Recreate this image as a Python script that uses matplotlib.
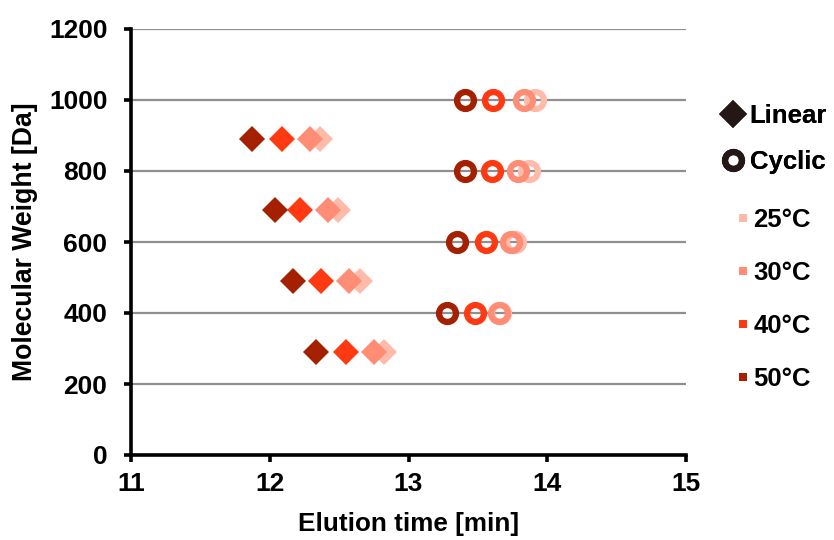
import matplotlib
matplotlib.use("Agg")
import matplotlib.pyplot as plt
from matplotlib.lines import Line2D

plt.rcParams['font.family'] = ['Liberation Sans', 'DejaVu Sans']
plt.rcParams['font.weight'] = 'bold'

temps = ["25°C", "30°C", "40°C", "50°C"]
colors = ["#FFBBAA", "#FF8C74", "#FF3A12", "#A52000"]

linear_mw = [890, 690, 490, 290]
linear_time = {
    "25°C": [12.36, 12.49, 12.65, 12.82],
    "30°C": [12.29, 12.42, 12.57, 12.75],
    "40°C": [12.09, 12.22, 12.37, 12.55],
    "50°C": [11.87, 12.04, 12.17, 12.33],
}

cyclic_mw = [1000, 800, 600, 400]
cyclic_time = {
    "25°C": [13.91, 13.87, 13.77, 13.66],
    "30°C": [13.83, 13.79, 13.74, 13.65],
    "40°C": [13.61, 13.60, 13.56, 13.48],
    "50°C": [13.41, 13.41, 13.35, 13.28],
}

x_ticks = [11, 12, 13, 14, 15]
y_ticks = [0, 200, 400, 600, 800, 1000, 1200]

fig = plt.figure(figsize=(8.34, 5.4), dpi=100)
ax = fig.add_axes([131/834, 85/540, 555/834, 426/540])

for t, c in zip(temps, colors):
    ax.plot(linear_time[t], linear_mw, linestyle='none', marker='D',
            markersize=13.5, color=c, markeredgewidth=0, zorder=3)
    ax.plot(cyclic_time[t], cyclic_mw, linestyle='none', marker='o',
            markersize=12.2, markerfacecolor='none', markeredgecolor=c,
            markeredgewidth=4.5, zorder=3)

ax.set_xlim(11, 15)
ax.set_ylim(0, 1200)
ax.set_xticks(x_ticks)
ax.set_yticks(y_ticks)
ax.yaxis.grid(True, color='#8f8f8f', linewidth=1.6)
ax.set_axisbelow(True)
for s in ['top', 'right']:
    ax.spines[s].set_visible(False)
for s in ['left', 'bottom']:
    ax.spines[s].set_linewidth(2.6)
    ax.spines[s].set_color('black')
ax.tick_params(axis='both', which='major', direction='out', length=5,
               width=2.6, labelsize=19)
ax.tick_params(axis='y', pad=12)
ax.tick_params(axis='x', pad=7)
for lab in ax.get_xticklabels() + ax.get_yticklabels():
    lab.set_fontweight('bold')

ax.set_xlabel("Elution time [min]", fontsize=18.8, fontweight='bold', labelpad=12)
ax.set_ylabel("Molecular Weight [Da]", fontsize=19.2, fontweight='bold', labelpad=8)

h1 = [Line2D([], [], linestyle='none', marker='D', markersize=14, color='#231815',
             markeredgewidth=0),
      Line2D([], [], linestyle='none', marker='o', markersize=12.2, markerfacecolor='none',
             markeredgecolor='#231815', markeredgewidth=4.5)]
leg1 = fig.legend(h1, ["Linear", "Cyclic"], loc='upper left',
                  bbox_to_anchor=(720/834, 1 - 104/540), frameon=False,
                  prop={'size': 18.5, 'weight': 'bold'}, handlelength=1.0,
                  handletextpad=0.15, labelspacing=0.85, borderpad=0,
                  borderaxespad=0)
fig.add_artist(leg1)

h2 = [Line2D([], [], linestyle='none', marker='s', markersize=5.5, color=c,
             markeredgewidth=0) for c in colors]
leg2 = fig.legend(h2, temps, loc='upper left',
                  bbox_to_anchor=(736.5/834, 1 - 208/540), frameon=False,
                  prop={'size': 18.5, 'weight': 'bold'}, handlelength=0.5,
                  handletextpad=0.15, labelspacing=1.13, borderpad=0,
                  borderaxespad=0)

fig.savefig("out.png", dpi=100)
